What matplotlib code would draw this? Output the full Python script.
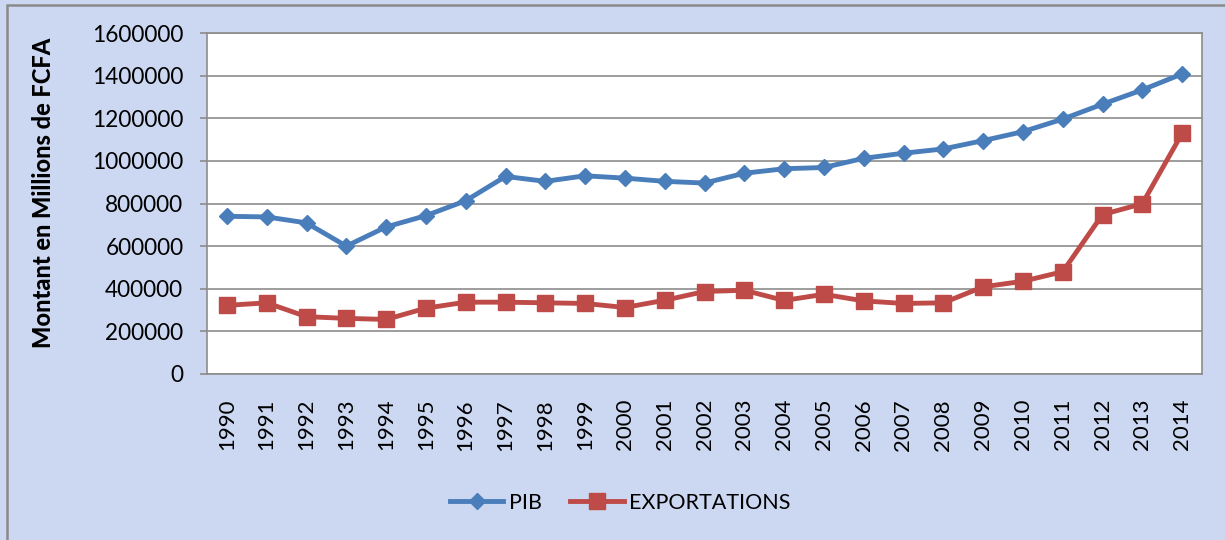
import matplotlib
matplotlib.use("Agg")
import matplotlib.pyplot as plt
from matplotlib.patches import Rectangle

years = [str(y) for y in range(1990, 2015)]
pib = [740000, 737000, 709000, 600000, 690000, 743000, 813000, 927000, 904000, 930000,
       919000, 904000, 896000, 942000, 963000, 969000, 1012000, 1036000, 1056000, 1095000,
       1137000, 1196000, 1266000, 1333000, 1408000]
exportations = [322000, 334000, 269000, 261000, 256000, 309000, 337000, 337000, 334000, 331000,
                312000, 346000, 387000, 393000, 345000, 374000, 343000, 331000, 334000, 409000,
                435000, 480000, 748000, 799000, 1129000]
yticks = [0, 200000, 400000, 600000, 800000, 1000000, 1200000, 1400000, 1600000]

plt.rcParams['font.family'] = ['Lato', 'DejaVu Sans']

W, H = 1225, 540
fig = plt.figure(figsize=(W / 100, H / 100), dpi=100)
fig.patch.set_facecolor('#ccd8f1')

# outer chart frame (top and left edges visible)
fig.patches.append(Rectangle((7 / W, -0.1), 1.2, 1 - 5 / H + 0.1, transform=fig.transFigure,
                             fill=False, edgecolor='#8a8a8a', linewidth=1.8, zorder=0))

ax = fig.add_axes([207 / W, 1 - 374 / H, (1202 - 207) / W, (374 - 33) / H])
ax.set_facecolor('white')

x = list(range(len(years)))
ax.plot(x, pib, color='#4a7ebb', linewidth=3.5, marker='D', markersize=8.5,
        markeredgewidth=1, markerfacecolor='#4a7ebb', markeredgecolor='#4a7ebb',
        label='PIB', zorder=3)
ax.plot(x, exportations, color='#be4b48', linewidth=3.5, marker='s', markersize=12,
        markeredgewidth=1, markerfacecolor='#be4b48', markeredgecolor='#be4b48',
        label='EXPORTATIONS', zorder=3)

ax.set_xlim(-0.5, len(years) - 0.5)
ax.set_ylim(0, 1600000)
ax.set_yticks(yticks)
ax.set_yticklabels([str(v) for v in yticks])
ax.set_xticks(x)
ax.set_xticklabels(years, rotation=90, va='top', ha='center')

ax.yaxis.grid(True, color='#8c8c8c', linewidth=1.2)
ax.set_axisbelow(True)
for s in ax.spines.values():
    s.set_color('#8c8c8c')
    s.set_linewidth(1.2)

ax.tick_params(axis='y', length=5, width=1.2, color='#8c8c8c', pad=12, labelsize=16.3,
               labelcolor='black')
ax.tick_params(axis='x', length=0, pad=18, labelsize=16, labelcolor='black')

ax.set_ylabel('Montant en Millions de FCFA', fontsize=17, fontweight='black')
ax.yaxis.set_label_coords(-0.1528, 0.53)

fig.legend(loc='center', bbox_to_anchor=(620 / W, 1 - 503 / H), ncol=2, frameon=False,
           fontsize=15.5, handlelength=2.5, handletextpad=0.25, columnspacing=1.3,
           markerscale=1.0)

fig.savefig('out.png', dpi=100, facecolor=fig.get_facecolor())
